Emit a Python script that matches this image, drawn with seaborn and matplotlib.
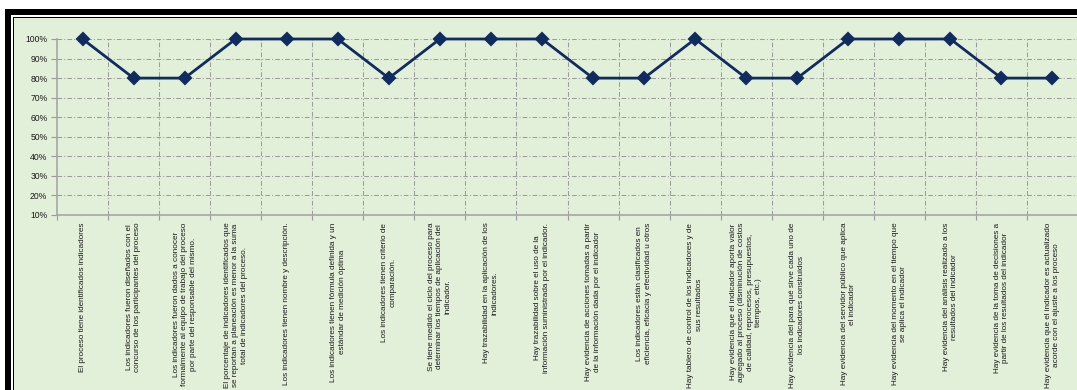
import matplotlib
matplotlib.use("Agg")
import matplotlib.pyplot as plt
from matplotlib.patches import Rectangle
from matplotlib.ticker import FixedLocator, PercentFormatter
import seaborn as sns
import pandas as pd

# Criterios evaluados y porcentaje de cumplimiento de cada uno
criterios = [
    "El proceso tiene identificados indicadores",
    "Los indicadores fueron diseñados con el\nconcurso de los participantes del proceso",
    "Los indicadores fueron dados a conocer\nformalmente al equipo de trabajo del proceso\npor parte del responsable del mismo.",
    "El porcentaje de indicadores identificados que\nse reportan a planeación es menor a la suma\ntotal de indicadores del proceso.",
    "Los indicadores tienen nombre y descripción.",
    "Los indicadores tienen fórmula definida y un\nestándar de medición óptima",
    "Los indicadores tienen criterio de\ncomparación.",
    "Se tiene medido el ciclo del proceso para\ndeterminar los tiempos de aplicación del\nindicador.",
    "Hay trazabilidad en la aplicación de los\nindicadores.",
    "Hay trazabilidad sobre el uso de la\ninformación suministrada por el indicador.",
    "Hay evidencia de acciones tomadas a partir\nde la información dada por el indicador",
    "Los indicadores están clasificados en\neficiencia, eficacia y efectividad u otros",
    "Hay tablero de control de los indicadores y de\nsus resultados",
    "Hay evidencia que el indicador aporta valor\nagregado al proceso (disminución de costos\nde calidad, reprocesos, presupuestos,\ntiempos, etc.)",
    "Hay evidencia del para qué sirve cada uno de\nlos indicadores construidos",
    "Hay evidencia del servidor público que aplica\nel indicador",
    "Hay evidencia del momento en el tiempo que\nse aplica el indicador",
    "Hay evidencia del análisis realizado a los\nresultados del indicador",
    "Hay evidencia de la toma de decisiones a\npartir de los resultados del indicador",
    "Hay evidencia que el indicador es actualizado\nacorde con el ajuste a los proceso",
]
cumplimiento = [1.0, 0.8, 0.8, 1.0, 1.0, 1.0, 0.8, 1.0, 1.0, 1.0,
                0.8, 0.8, 1.0, 0.8, 0.8, 1.0, 1.0, 1.0, 0.8, 0.8]
y_ticks = [0.1, 0.2, 0.3, 0.4, 0.5, 0.6, 0.7, 0.8, 0.9, 1.0]

W, H = 1077, 390
sns.set_theme(style="white")
plt.rcParams["font.family"] = ["Liberation Sans", "DejaVu Sans"]

fig = plt.figure(figsize=(W / 100, H / 100), dpi=100, facecolor="white")


def px_rect(x0, y0, x1, y1, color, z):
    """Rectangle given in pixel coordinates measured from the top-left corner."""
    fig.add_artist(Rectangle((x0 / W, 1 - y1 / H), (x1 - x0) / W, (y1 - y0) / H,
                             transform=fig.transFigure, facecolor=color,
                             edgecolor="none", zorder=z))


# Double black frame around the light green chart area
px_rect(5, 9, W + 5, H + 5, "black", -10)
px_rect(11, 15, W + 5, H + 5, "white", -9)
px_rect(13, 17, W + 5, H + 5, "black", -8)
px_rect(14, 18, W + 5, H + 5, "#E2EFD9", -7)

ax_left, ax_right, ax_top, ax_bottom = 57, 1078, 39, 215
ax = fig.add_axes([ax_left / W, 1 - ax_bottom / H,
                   (ax_right - ax_left) / W, (ax_bottom - ax_top) / H])
ax.set_facecolor("none")

df = pd.DataFrame({"criterio": criterios, "cumplimiento": cumplimiento})
sns.pointplot(data=df, x="criterio", y="cumplimiento", order=criterios,
              color="#0F2B5F", markers="D", markersize=6.2, linewidth=2.0,
              errorbar=None, ax=ax)
for art in ax.lines:
    art.set_clip_on(False)
    art.set_zorder(5)

n = len(criterios)
ax.set_xlim(-0.5, n - 0.5)
ax.set_ylim(0.1, 1.0)
ax.set_xlabel("")
ax.set_ylabel("")

# Y axis: percentages with dash-dot grid
ax.yaxis.set_major_locator(FixedLocator(y_ticks))
ax.yaxis.set_major_formatter(PercentFormatter(1.0, decimals=0))
grid_color = "#9C9C9C"
dash = (0, (4.5, 2, 1, 2))
for v in y_ticks:
    ax.axhline(v, color=grid_color, lw=0.75, ls=dash, zorder=1)
for b in range(1, n):
    ax.axvline(b - 0.5, color=grid_color, lw=0.75, ls=dash, zorder=1)

# X axis: category boundaries as minor ticks, labels on the category centres
ax.xaxis.set_minor_locator(FixedLocator([b - 0.5 for b in range(n + 1)]))
ax.tick_params(axis="x", which="major", length=0, pad=5.5)
ax.tick_params(axis="x", which="minor", length=3.5, width=0.8, color="#9A9A9A",
               direction="out", bottom=True)
ax.tick_params(axis="y", which="major", length=4, width=0.8, color="#9A9A9A",
               direction="out", left=True, pad=3, labelsize=6.2, labelcolor="#1A1A1A")

ax.set_xticks(range(n))
ax.set_xticklabels(criterios, rotation=90, ha="center", va="top",
                   multialignment="center", fontsize=5.9, color="#1A1A1A",
                   linespacing=1.3)

for side in ("top", "right"):
    ax.spines[side].set_visible(False)
for side in ("left", "bottom"):
    ax.spines[side].set_color("#A6A6A6")
    ax.spines[side].set_linewidth(1.2)

fig.savefig("out.png", dpi=100, facecolor="white")
